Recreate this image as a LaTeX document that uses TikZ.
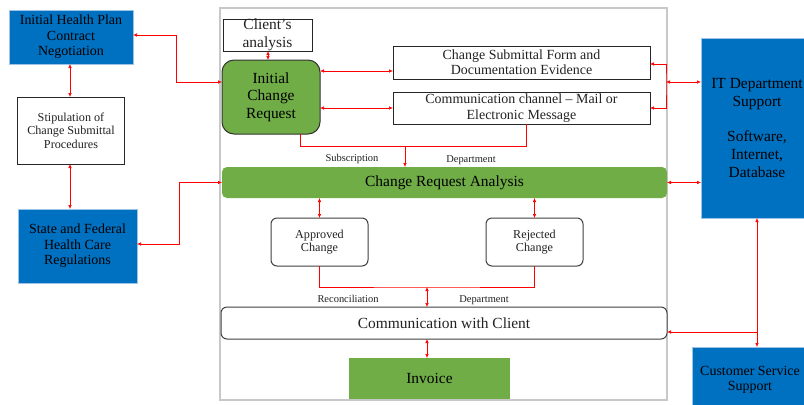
\documentclass[tikz,border=0pt]{standalone}
\usepackage{fontspec}
\setmainfont{Liberation Serif}
\usetikzlibrary{arrows.meta}
\definecolor{myblue}{HTML}{0070C0}
\definecolor{bluebd}{HTML}{9DC3E6}
\definecolor{mygreen}{HTML}{70AD47}
\definecolor{framegray}{HTML}{C8C8C8}
\definecolor{txt}{HTML}{222222}
\begin{document}
\begin{tikzpicture}[x=1bp,y=-1bp,
  every node/.style={inner sep=0pt, outer sep=0pt, align=center, text=txt},
  bluebox/.style={draw=bluebd, line width=0.8bp, fill=myblue, text=black},
  whitebox/.style={draw=black!85, line width=1bp, fill=white},
  roundbox/.style={draw=black!75, line width=1bp, fill=white, rounded corners=6bp},
  greenbox/.style={fill=mygreen, text=black},
  sz/.style 2 args={minimum width=#1 bp, minimum height=#2 bp},
  fbig/.style={font=\fontsize{15.5}{17.7}\selectfont},
  fmid/.style={font=\fontsize{14}{15.5}\selectfont},
  fsm/.style={font=\fontsize{12.2}{13.5}\selectfont},
  flab/.style={font=\fontsize{10.5}{12}\selectfont},
  conn/.style={draw=red, line width=0.6bp},
  biarr/.style={conn, {Latex[length=4bp,width=3.5bp]}-{Latex[length=4bp,width=3.5bp]}},
  onearr/.style={conn, -{Latex[length=4bp,width=3.5bp]}}
]
\clip (0,0) rectangle (804,404);
\fill[white] (0,0) rectangle (804,404);
% container
\draw[framegray, line width=1.5bp] (220,8) rectangle (667,400);

% left column
\node[bluebox, fmid, sz={124}{54}] (hp) at (71,37) {Initial Health Plan\\Contract\\Negotiation};
\node[whitebox, fsm, sz={106}{67}] (stip) at (71,130.5) {Stipulation of\\Change Submittal\\Procedures};
\node[bluebox, fmid, sz={119}{74}] (state) at (77.5,246) {State and Federal\\Health Care\\Regulations};

% top of container
\node[whitebox, fbig, sz={89}{32}] (client) at (267.5,35) {Client’s\\analysis};
\node[draw=black!80, line width=1bp, fill=mygreen, text=black, rounded corners=12bp, fbig, sz={98}{74}] (icr) at (271,97) {Initial\\Change\\Request};
\node[whitebox, fmid, sz={257}{33}] (csf) at (521.5,62.5) {Change Submittal Form and\\Documentation Evidence};
\node[whitebox, fmid, sz={257}{32}] (cc) at (521.5,108) {Communication channel – Mail or\\Electronic Message};

\node[greenbox, fbig, rounded corners=5bp, sz={445}{31}] (cra) at (444.5,182.5) {Change Request Analysis};
\node[roundbox, fsm, sz={97}{48}] (appr) at (319.5,242) {Approved\\Change};
\node[roundbox, fsm, sz={97}{48}] (rej) at (534.5,242) {Rejected\\Change};
\node[roundbox, fbig, sz={446}{32}] (comm) at (444,323) {Communication with Client};
\node[greenbox, fbig, sz={161}{41}] (inv) at (429.5,378.5) {Invoice};

% right column
\node[bluebox, fbig, sz={112}{180}] (it) at (757,128) {IT Department\\Support\\[17.7bp]Software,\\Internet,\\Database};
\node[bluebox, fmid, sz={116}{66}] (css) at (750,380) {Customer Service\\Support};

% labels
\node[flab] (lsub) at (352,159) {Subscription};
\node[flab] (ldep1) at (471,160) {Department};
\node[flab] (lrec) at (348,299) {Reconciliation};
\node[flab] (ldep2) at (484,300) {Department};

% coordinates
\coordinate (brk) at (666,82);
\coordinate (j1) at (405,146);
\coordinate (j2) at (427,287);
\coordinate (j3) at (757,332);

% connectors
\draw[biarr] (hp.east |- 0,35) -- (176,35) |- (icr.west |- 0,82);
\draw[biarr] (hp.south -| 70,0) -- (stip.north -| 70,0);
\draw[biarr] (stip.south -| 70,0) -- (state.north -| 70,0);
\draw[biarr] (state.east |- 0,244) -- (179,244) |- (cra.west);
\draw[biarr] (client.south -| 268,0) -- (icr.north -| 268,0);
\draw[biarr] (icr.east |- 0,71) -- (csf.west |- 0,71);
\draw[biarr] (icr.east |- cc.west) -- (cc.west);
\draw[biarr] (csf.east |- 0,64) -| (brk) |- (cc.east);
\draw[biarr] (brk) -- (it.west |- brk);
\draw[conn] (icr.south -| 300,0) |- (526,146) -- (cc.south -| 526,0);
\draw[onearr] (j1) -- (cra.north -| j1);
\draw[biarr] (cra.east) -- (it.west |- cra.east);
\draw[biarr] (cra.south -| appr.north) -- (appr.north);
\draw[biarr] (cra.south -| rej.north) -- (rej.north);
\draw[conn] (appr.south) |- (j2) -| (rej.south);
\draw[biarr] (j2) -- (comm.north -| j2);
\draw[biarr] (comm.south -| j2) -- (inv.north -| j2);
\draw[biarr] (it.south) -- (it.south |- css.north);
\draw[onearr] (j3) -- (comm.east |- j3);
\end{tikzpicture}
\end{document}
